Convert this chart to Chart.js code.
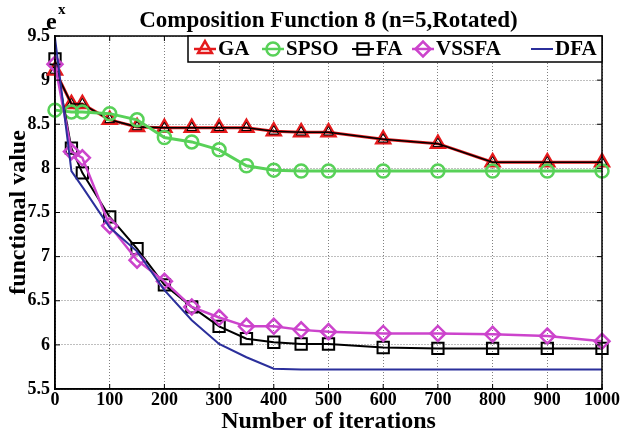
<!DOCTYPE html>
<html><head><meta charset="utf-8">
<script src="https://cdn.jsdelivr.net/npm/chart.js@4.4.1/dist/chart.umd.min.js"></script>
<style>html,body{margin:0;padding:0;background:#fff;}canvas{display:block;}</style>
</head><body>
<canvas id="c" width="621" height="437"></canvas>
<script>
// ---- data ----
const iterations = [0, 30, 50, 100, 150, 200, 250, 300, 350, 400, 450, 500, 600, 700, 800, 900, 1000];
const gaValues    = [9.11, 8.73, 8.73, 8.55, 8.47, 8.46, 8.46, 8.46, 8.46, 8.42, 8.41, 8.41, 8.33, 8.28, 8.07, 8.07, 8.07];
const spsoValues  = [8.66, 8.64, 8.64, 8.62, 8.55, 8.35, 8.30, 8.21, 8.03, 7.98, 7.97, 7.97, 7.97, 7.97, 7.97, 7.97, 7.97];
const faValues    = [9.24, 8.23, 7.95, 7.45, 7.09, 6.68, 6.43, 6.21, 6.07, 6.03, 6.01, 6.01, 5.97, 5.96, 5.96, 5.96, 5.96];
const vssfaValues = [9.18, 8.19, 8.12, 7.35, 6.96, 6.72, 6.43, 6.31, 6.21, 6.21, 6.17, 6.15, 6.13, 6.13, 6.12, 6.10, 6.04];
const dfaValues   = [9.48, 7.97, 7.79, 7.33, 7.06, 6.62, 6.28, 6.01, 5.86, 5.73, 5.72, 5.72, 5.72, 5.72, 5.72, 5.72, 5.72];
const seriesNames = ['GA', 'SPSO', 'FA', 'VSSFA', 'DFA'];
const xTicks = [0, 100, 200, 300, 400, 500, 600, 700, 800, 900, 1000];
const yTicks = [5.5, 6, 6.5, 7, 7.5, 8, 8.5, 9, 9.5];
const titleText = 'Composition Function 8 (n=5,Rotated)';
const xTitle = 'Number of iterations';
const yTitle = 'functional value';

const SERIF = '"Liberation Serif", "Times New Roman", Times, serif';
const pts = vals => iterations.map((x, i) => ({x: x, y: vals[i]}));
const NONE = 'rgba(0,0,0,0)';

const styles = {
  GA:    {color: '#e41a1c', width: 3,   marker: 'triangle', r: 8, mw: 2.5},
  SPSO:  {color: '#58d158', width: 3,   marker: 'circle',   r: 6.5, mw: 2.5},
  FA:    {color: '#000000', width: 2,   marker: 'rect',     r: 8, mw: 2},
  VSSFA: {color: '#cc44cc', width: 2.5, marker: 'rectRot',  r: 7.5, mw: 2.5},
  DFA:   {color: '#2b2f9b', width: 2,   marker: null,       r: 0, mw: 0}
};
const valuesByName = {GA: gaValues, SPSO: spsoValues, FA: faValues, VSSFA: vssfaValues, DFA: dfaValues};
const orderByName = {GA: 5, SPSO: 3, FA: 2, VSSFA: 1, DFA: 0};

const datasets = [];
seriesNames.forEach(name => {
  const s = styles[name];
  datasets.push({
    label: name, data: pts(valuesByName[name]),
    borderColor: s.color, borderWidth: s.width, backgroundColor: NONE,
    pointStyle: s.marker || 'circle', pointRadius: s.r, pointHoverRadius: s.r,
    pointBorderColor: s.color, pointBorderWidth: s.mw, pointBackgroundColor: NONE,
    tension: 0, fill: false, clip: false, order: orderByName[name]
  });
  if (name === 'GA') {
    datasets.push({
      label: 'GA_core', data: pts(valuesByName[name]),
      borderColor: '#000', borderWidth: 1.6, backgroundColor: NONE,
      pointStyle: 'triangle', pointRadius: 5.5, pointHoverRadius: 5.5,
      pointBorderColor: '#000', pointBorderWidth: 1, pointBackgroundColor: NONE,
      tension: 0, fill: false, clip: false, order: 4
    });
  }
});

function drawMarker(ctx, type, x, y, r) {
  ctx.beginPath();
  if (type === 'triangle') {
    ctx.moveTo(x, y - r);
    ctx.lineTo(x + r * Math.sin(2 * Math.PI / 3), y - r * Math.cos(2 * Math.PI / 3));
    ctx.lineTo(x + r * Math.sin(4 * Math.PI / 3), y - r * Math.cos(4 * Math.PI / 3));
    ctx.closePath();
  } else if (type === 'circle') {
    ctx.arc(x, y, r, 0, Math.PI * 2);
  } else if (type === 'rect') {
    const h = r * Math.SQRT1_2;
    ctx.rect(x - h, y - h, 2 * h, 2 * h);
  } else if (type === 'rectRot') {
    ctx.moveTo(x - r, y); ctx.lineTo(x, y - r); ctx.lineTo(x + r, y); ctx.lineTo(x, y + r); ctx.closePath();
  }
  ctx.stroke();
}

const decor = {
  id: 'decor',
  afterDatasetsDraw(chart) {
    const {ctx, chartArea: {left, right, top, bottom}, scales: {x, y}} = chart;
    ctx.save();
    // inward ticks on all four sides
    ctx.strokeStyle = '#000'; ctx.lineWidth = 1; ctx.setLineDash([]);
    ctx.beginPath();
    xTicks.forEach(v => {
      const px = x.getPixelForValue(v);
      ctx.moveTo(px, bottom); ctx.lineTo(px, bottom - 5);
      ctx.moveTo(px, top); ctx.lineTo(px, top + 5);
    });
    yTicks.forEach(v => {
      const py = y.getPixelForValue(v);
      ctx.moveTo(left, py); ctx.lineTo(left + 5, py);
      ctx.moveTo(right, py); ctx.lineTo(right - 5, py);
    });
    ctx.stroke();
    // frame
    ctx.lineWidth = 1.5;
    ctx.strokeRect(left, top, right - left, bottom - top);

    // legend box inside the plot, top-right
    const lx0 = 188, ly0 = top, lh = 26;
    ctx.fillStyle = '#fff';
    ctx.fillRect(lx0, ly0, right - lx0, lh);
    ctx.strokeStyle = '#000'; ctx.lineWidth = 1.5;
    ctx.strokeRect(lx0, ly0, right - lx0, lh);
    const starts = [194, 262, 352, 412, 531];
    const cy = ly0 + lh / 2;
    ctx.font = 'bold 21px ' + SERIF;
    ctx.textBaseline = 'middle'; ctx.textAlign = 'left';
    seriesNames.forEach((name, i) => {
      const s = styles[name];
      const sx = starts[i];
      ctx.strokeStyle = s.color; ctx.lineWidth = Math.min(s.width, 2.5);
      ctx.beginPath(); ctx.moveTo(sx, cy); ctx.lineTo(sx + 22, cy); ctx.stroke();
      if (s.marker) {
        ctx.lineWidth = s.mw;
        drawMarker(ctx, s.marker, sx + 11, cy, s.r);
      }
      ctx.fillStyle = '#000';
      ctx.fillText(name, sx + 24, cy + 1);
    });

    // e^x label
    ctx.fillStyle = '#000';
    ctx.textBaseline = 'alphabetic';
    ctx.font = 'bold 24px ' + SERIF;
    ctx.fillText('e', 46, 29);
    ctx.font = 'bold 15px ' + SERIF;
    ctx.fillText('x', 58, 14);
    ctx.restore();
  }
};

new Chart(document.getElementById('c'), {
  type: 'line',
  data: {datasets: datasets},
  plugins: [decor],
  options: {
    responsive: false, animation: false, devicePixelRatio: 1,
    layout: {padding: {left: 0, right: 18, top: 0, bottom: 0}},
    events: [],
    plugins: {
      legend: {display: false},
      tooltip: {enabled: false},
      title: {
        display: true, text: titleText, fullSize: false, color: '#000',
        font: {family: SERIF, size: 23, weight: 'bold'},
        padding: {top: 7, bottom: 1.4}
      }
    },
    scales: {
      x: {
        type: 'linear', min: 0, max: 1000,
        afterBuildTicks: s => { s.ticks = xTicks.map(v => ({value: v})); },
        afterFit: s => { s.height = 48; },
        ticks: {
          color: '#000', font: {family: SERIF, size: 18, weight: 'bold'},
          padding: 1, maxRotation: 0, autoSkip: false, callback: v => String(v)
        },
        grid: {color: 'rgba(0,0,0,0.5)', lineWidth: 1, drawTicks: false},
        border: {display: true, color: '#000', width: 1.5, dash: [1, 2]},
        title: {display: true, text: xTitle, color: '#000', font: {family: SERIF, size: 24, weight: 'bold'}, padding: {top: 0, bottom: 1}}
      },
      y: {
        type: 'linear', min: 5.5, max: 9.5,
        afterBuildTicks: s => { s.ticks = yTicks.map(v => ({value: v})); },
        afterFit: s => { s.width = 55; },
        ticks: {
          color: '#000', font: {family: SERIF, size: 18, weight: 'bold'},
          padding: 5, autoSkip: false, callback: v => String(v)
        },
        grid: {color: 'rgba(0,0,0,0.5)', lineWidth: 1, drawTicks: false},
        border: {display: true, color: '#000', width: 1.5, dash: [1, 2]},
        title: {display: true, text: yTitle, color: '#000', font: {family: SERIF, size: 24, weight: 'bold'}, padding: {top: 4, bottom: 0}}
      }
    }
  }
});
</script>
</body></html>
